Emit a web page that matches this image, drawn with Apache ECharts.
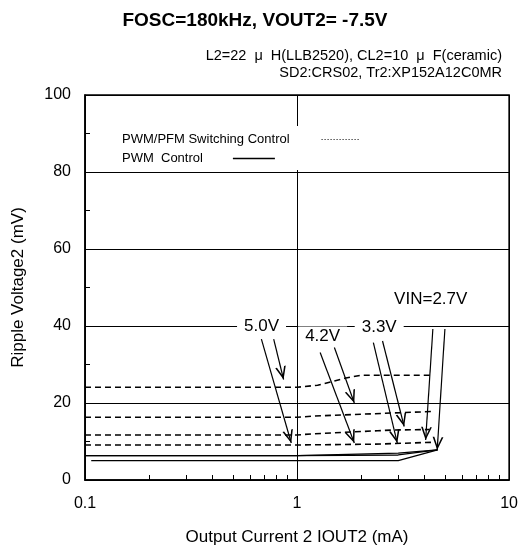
<!DOCTYPE html>
<html>
<head>
<meta charset="utf-8">
<script src="https://cdn.jsdelivr.net/npm/echarts@6/dist/echarts.min.js"></script>
<style>
html,body{margin:0;padding:0;background:#fff;}
#chart{width:521px;height:551px;}
</style>
</head>
<body>
<div id="chart"></div>
<script>
// ---- data ----
const xTickLabels = ['0.1', '1', '10'];
const yTickLabels = ['0', '20', '40', '60', '80', '100'];

// PWM/PFM switching control (dashed)
const pfmCurrentA = [0.1, 1.0, 1.25, 1.7, 2.0, 4.4];
const pfmRippleA  = [24.1, 24.1, 24.6, 26.5, 27.2, 27.2];
const pfmCurrentB = [0.1, 1.0, 1.2, 2.8, 4.4];
const pfmRippleB  = [16.3, 16.3, 16.6, 17.4, 17.8];
const pfmCurrentC = [0.1, 1.0, 1.2, 2.4, 2.9, 4.2];
const pfmRippleC  = [11.7, 11.7, 12.0, 12.8, 13.0, 13.1];
const pfmCurrentD = [0.1, 1.0, 2.3, 4.4];
const pfmRippleD  = [9.1, 9.1, 9.3, 9.8];

// PWM control (solid)
const pwmCurrentA = [0.1, 1.0, 3.0, 4.6];
const pwmRippleA  = [6.35, 6.35, 7.0, 7.8];
const pwmCurrentB = [0.1, 1.0, 3.0, 4.6];
const pwmRippleB  = [6.35, 6.35, 6.5, 7.8];
const pwmCurrentC = [0.107, 3.0, 4.6];
const pwmRippleC  = [5.05, 5.05, 7.8];

// VIN annotations (data coordinates: [current mA, ripple mV])
const vinLabels      = ['5.0V', '4.2V', '3.3V', 'VIN=2.7V'];
const vinLabelAnchor = [[0.68, 40.0], [1.32, 37.4], [2.44, 39.6], [4.27, 47.0]];
const arrowFrom = [[0.679, 36.6], [0.776, 36.6], [1.285, 33.1], [1.50, 34.4],
                   [2.29, 35.7], [2.53, 36.1], [4.37, 39.2], [4.98, 39.2]];
const arrowTo   = [[0.939, 9.6], [0.864, 26.1], [1.862, 9.6], [1.862, 20.0],
                   [2.97, 9.6], [3.20, 13.9], [4.04, 10.4], [4.58, 7.8]];

const PFM_NAME = 'PWM/PFM Switching Control';
const PWM_NAME = 'PWM  Control';
// ---------------------------------------

const zip = (xs, ys) => xs.map((x, i) => [x, ys[i]]);
const FONT = 'Liberation Sans, Arial, Helvetica, sans-serif';
// open "V" arrow head, tip at the centre of a 26x26 box (tiny specks extend the box)
const chevron = 'path://M13,0 L13.02,0 L13,0.02 Z M0,13 L0.02,13 L0,13.02 Z M26,13 L25.98,13 L26,13.02 Z ' +
                'M13,13 L18.4,26 L16.7,26 L13,16.8 L9.3,26 L7.6,26 Z';

function pfmSeries(xs, ys) {
  return { type: 'line', name: PFM_NAME, data: zip(xs, ys), symbol: 'none', silent: true,
    itemStyle: { color: '#000' },
    lineStyle: { color: '#000', width: 1.6, type: [6, 4] } };
}
function pwmSeries(xs, ys) {
  return { type: 'line', name: PWM_NAME, data: zip(xs, ys), symbol: 'none', silent: true,
    itemStyle: { color: '#000' },
    lineStyle: { color: '#000', width: 1.3, type: 'solid' } };
}
const hiddenSymbol = { color: 'rgba(0,0,0,0)', borderColor: 'rgba(0,0,0,0)', borderWidth: 0, opacity: 0 };

const chart = echarts.init(document.getElementById('chart'), null, { renderer: 'canvas' });
chart.setOption({
  animation: false,
  backgroundColor: '#fff',
  textStyle: { fontFamily: FONT, color: '#000' },
  title: [
    { text: 'FOSC=180kHz, VOUT2= -7.5V', left: 255, top: 11, padding: 0, textAlign: 'center',
      textStyle: { fontSize: 19, fontWeight: 'bold', color: '#000', fontFamily: FONT } },
    { text: 'L2=22  μ  H(LLB2520), CL2=10  μ  F(ceramic)', right: 19, top: 48, padding: 0,
      textStyle: { fontSize: 14.5, fontWeight: 'normal', color: '#000', fontFamily: FONT } },
    { text: 'SD2:CRS02, Tr2:XP152A12C0MR', right: 19, top: 65, padding: 0,
      textStyle: { fontSize: 14.5, fontWeight: 'normal', color: '#000', fontFamily: FONT } }
  ],
  legend: [
    { orient: 'vertical', left: 92, top: 126, align: 'right', selectedMode: false,
      itemWidth: 38, itemHeight: 14, padding: [7, 80, 3, 30], backgroundColor: '#fff',
      textStyle: { fontSize: 13, color: '#000', fontFamily: FONT },
      data: [{ name: PFM_NAME, itemStyle: hiddenSymbol,
               lineStyle: { type: [1, 2], width: 1, color: '#000' },
               textStyle: { padding: [0, 27, 0, 0] } }] },
    { orient: 'vertical', left: 92, top: 149, align: 'right', selectedMode: false,
      itemWidth: 42, itemHeight: 14, padding: [3, 120, 5, 30], backgroundColor: '#fff',
      textStyle: { fontSize: 13, color: '#000', fontFamily: FONT },
      data: [{ name: PWM_NAME, itemStyle: hiddenSymbol,
               lineStyle: { type: 'solid', width: 1.5, color: '#000' },
               textStyle: { padding: [0, 25, 0, 0] } }] }
  ],
  grid: { left: 85, right: 11, top: 95, bottom: 71, show: true,
          borderColor: '#000', borderWidth: 1.5, backgroundColor: '#fff' },
  xAxis: {
    type: 'log', logBase: 10, min: 0.1, max: 10,
    name: 'Output Current 2 IOUT2 (mA)', nameLocation: 'middle', nameGap: 49,
    nameTextStyle: { fontSize: 17, color: '#000', fontFamily: FONT },
    axisLine: { show: true, lineStyle: { color: '#000', width: 1.5 } },
    axisTick: { show: true, inside: true, length: 5, lineStyle: { color: '#000', width: 1 } },
    minorTick: { show: true, splitNumber: 9, length: 5, lineStyle: { color: '#000', width: 1 } },
    splitLine: { show: true, lineStyle: { color: '#000', width: 1 } },
    axisLabel: { fontSize: 16, color: '#000', margin: 16, fontFamily: FONT,
                 formatter: (v, i) => xTickLabels[i] }
  },
  yAxis: {
    type: 'value', min: 0, max: 100, interval: 20,
    name: 'Ripple Voltage2 (mV)', nameLocation: 'middle', nameGap: 58, nameRotate: 90,
    nameTextStyle: { fontSize: 17, color: '#000', fontFamily: FONT },
    axisLine: { show: true, lineStyle: { color: '#000', width: 1.5 } },
    axisTick: { show: true, inside: true, length: 5, lineStyle: { color: '#000', width: 1 } },
    minorTick: { show: true, splitNumber: 2, length: 5, lineStyle: { color: '#000', width: 1 } },
    splitLine: { show: true, lineStyle: { color: '#000', width: 1 } },
    axisLabel: { fontSize: 16, color: '#000', margin: 14, fontFamily: FONT,
                 formatter: (v, i) => yTickLabels[i] }
  },
  series: [
    pfmSeries(pfmCurrentA, pfmRippleA),
    pfmSeries(pfmCurrentB, pfmRippleB),
    pfmSeries(pfmCurrentC, pfmRippleC),
    pfmSeries(pfmCurrentD, pfmRippleD),
    pwmSeries(pwmCurrentA, pwmRippleA),
    pwmSeries(pwmCurrentB, pwmRippleB),
    pwmSeries(pwmCurrentC, pwmRippleC),
    {
      type: 'line', name: 'annotations', data: [], symbol: 'none', silent: true, z: 5,
      markLine: {
        silent: true, animation: false,
        symbol: ['none', chevron], symbolSize: 26,
        label: { show: false },
        emphasis: { disabled: true },
        itemStyle: { color: '#000' },
        lineStyle: { color: '#000', width: 1.2, type: 'solid' },
        data: arrowFrom.map((p, i) => [{ coord: p }, { coord: arrowTo[i] }])
      },
      markPoint: {
        silent: true, animation: false,
        symbol: 'rect', symbolSize: 1,
        itemStyle: { color: 'rgba(0,0,0,0)' },
        label: { show: true, position: 'inside', formatter: '{b}', fontSize: 17, color: '#000',
                 fontFamily: FONT, backgroundColor: '#fff', padding: [1, 7] },
        data: vinLabels.map((n, i) => ({ name: n, coord: vinLabelAnchor[i] }))
      }
    }
  ]
});
</script>
</body>
</html>
